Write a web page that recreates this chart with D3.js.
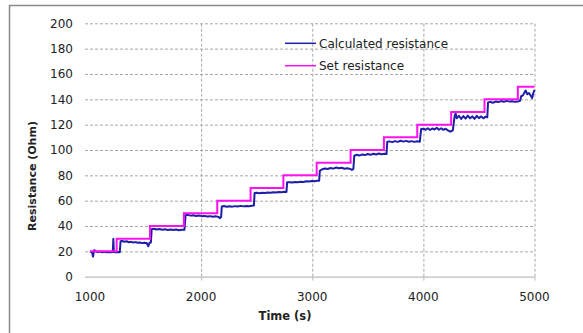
<!DOCTYPE html>
<html>
<head>
<meta charset="utf-8">
<script src="https://cdn.jsdelivr.net/npm/d3@7"></script>
<style>
  html, body { margin: 0; padding: 0; background: #fff; }
  svg { display: block; }
  text { font-family: "DejaVu Sans", sans-serif; fill: #222; }
</style>
</head>
<body>
<svg id="chart" width="583" height="333"></svg>
<script>
// ---------- data ----------
const xTicks = [1000, 2000, 3000, 4000, 5000];
const yTicks = [0, 20, 40, 60, 80, 100, 120, 140, 160, 180, 200];
const seriesNames = ["Calculated resistance", "Set resistance"];

// Set resistance: step change times and values
const setTimes  = [1000, 1240, 1540, 1845, 2145, 2445, 2740, 3040, 3345, 3645, 3945, 4250, 4550, 4850, 5000];
const setValues = [20,   30,   40,   50,   60,   70,   80,   90,   100,  110,  120,  130,  140,  150,  150];

// Calculated resistance (time, value)
const calcTimes = [
  1000,1010,1020,1027,1033,1040,1050,1070,1090,1110,1130,1150,1170,1190,1205,1210,1215,1230,1250,1268,1275,
  1290,1310,1330,1350,1370,1390,1410,1430,1450,1470,1490,1510,1525,1535,1548,1555,
  1575,1600,1625,1650,1675,1700,1725,1750,1775,1800,1825,1850,1860,
  1880,1905,1930,1955,1980,2005,2030,2055,2080,2105,2130,2155,2170,2180,2186,
  2205,2230,2255,2280,2305,2330,2355,2380,2405,2430,2455,2475,2481,
  2500,2525,2550,2575,2600,2625,2650,2675,2700,2725,2750,2768,2774,
  2795,2820,2845,2870,2895,2920,2945,2970,2995,3020,3045,3062,3068,
  3090,3115,3140,3165,3190,3215,3240,3265,3290,3315,3340,3357,3370,3378,
  3400,3425,3450,3475,3500,3525,3550,3575,3600,3625,3650,3668,3675,
  3695,3720,3745,3770,3795,3820,3845,3870,3895,3920,3945,3968,3980,
  4000,4020,4040,4060,4080,4100,4120,4140,4160,4180,4200,4220,4243,4265,4280,
  4290,4300,4320,4340,4360,4380,4400,4420,4440,4460,4480,4500,4520,4540,4560,4575,4582,
  4600,4625,4650,4675,4700,4725,4750,4775,4800,4825,4850,4870,4880,
  4895,4910,4920,4935,4950,4965,4979,4990,5000
];
const calcValues = [
  20,19.5,19,15.8,19,21,20,19.5,19.8,19.3,19.6,19.2,19.5,19.3,19.4,30,19.5,19.2,19.4,19.3,28,
  28.2,27.6,28,27.2,27.5,27,27.3,26.8,27,26.5,26.8,26.6,24,26.8,27,37.5,
  37.8,37.2,37.6,37,37.4,36.9,37.3,36.8,37.2,36.6,37,37.1,48.5,
  48.8,48.2,48.5,47.9,48.3,47.8,48,47.5,47.8,47.4,47.7,47.2,46.2,47.3,55.5,
  55.8,55.2,55.6,55.3,55.7,55.4,55.9,55.5,55.8,55.6,56,56.2,66,
  66.2,65.8,66.3,66,66.5,66.2,66.7,66.4,66.8,66.6,67,66.9,74.5,
  74.6,74.3,74.8,74.6,75,74.8,75.3,75.1,75.6,75.4,75.8,75.7,83.5,
  84.8,85.4,85,85.8,85.3,86.2,85.6,86,85.2,85.6,85.1,84.3,85,95.5,
  96.2,95.6,96.5,96,96.8,96.2,97,96.4,97.2,96.6,97,96.8,106.5,
  106.8,106.2,107,106.4,107.3,106.6,107.2,106.5,107,106.4,106.9,106.6,116.5,
  116.8,116,117.2,115.8,117,116.2,117.5,116,117.2,115.9,116.8,115.5,114.5,115.5,126,
  129,125,127,124.5,126.8,124.8,127.2,125,126.5,124.6,126.9,125.2,126.5,125,126.3,125.8,137.6,
  138,137.3,138.2,137.8,138.6,138.1,138.8,138.2,138.5,138,138.3,138.8,142.5,
  143,145.5,147,144,145,143,141,145,147.5
];

// ---------- layout ----------
const svg = d3.select("#chart");
const W = 583, H = 333;
const plot = { left: 85, right: 534.5, top: 23.3, bottom: 276.7 };

const x = d3.scaleLinear().domain([955, 5000]).range([plot.left, plot.right]);
const y = d3.scaleLinear().domain([0, 200]).range([plot.bottom, plot.top]);

// outer chart border
svg.append("rect")
  .attr("x", 9.5).attr("y", 5.5).attr("width", W + 10).attr("height", H + 10)
  .attr("fill", "none").attr("stroke", "#8a8a8a").attr("stroke-width", 1.5);

const gridColor = "#a8a8a8";

// horizontal gridlines
const yGrid = d3.axisLeft(y).tickValues(yTicks.filter(d => d > 0))
  .tickSize(-(plot.right - plot.left)).tickFormat("");
svg.append("g").attr("transform", `translate(${plot.left},0)`).call(yGrid)
  .call(g => g.select(".domain").remove())
  .call(g => g.selectAll("line").attr("stroke", gridColor).attr("stroke-dasharray", "3,2"));

// vertical gridlines
const xGrid = d3.axisBottom(x).tickValues(xTicks.filter(d => d > 1000))
  .tickSize(-(plot.bottom - plot.top)).tickFormat("");
svg.append("g").attr("transform", `translate(0,${plot.bottom})`).call(xGrid)
  .call(g => g.select(".domain").remove())
  .call(g => g.selectAll("line").attr("stroke", gridColor).attr("stroke-dasharray", "3,2"));

// x axis line + ticks
const xAxis = d3.axisBottom(x).tickValues(xTicks.filter(d => d > 1000)).tickSize(4).tickFormat("");
svg.append("g").attr("transform", `translate(0,${plot.bottom})`).call(xAxis)
  .call(g => g.select(".domain").attr("d", `M${plot.left},0.5H${plot.right}`).attr("stroke", "#bdbdbd").attr("stroke-width", 1.2))
  .call(g => g.selectAll("line").attr("stroke", "#bdbdbd"));

// x tick labels
svg.append("g").selectAll("text").data(xTicks).join("text")
  .attr("x", d => x(d)).attr("y", 301)
  .attr("text-anchor", "middle").attr("font-size", 12)
  .text(d => d);

// y tick labels
svg.append("g").selectAll("text").data(yTicks).join("text")
  .attr("x", 73).attr("y", d => y(d) + 4.3)
  .attr("text-anchor", "end").attr("font-size", 12)
  .text(d => d);

// axis titles
svg.append("text").attr("x", 285).attr("y", 320)
  .attr("text-anchor", "middle").attr("font-size", 11.5).attr("font-weight", "bold")
  .text("Time (s)");
svg.append("text")
  .attr("transform", "translate(36,176) rotate(-90)")
  .attr("text-anchor", "middle").attr("font-size", 11).attr("font-weight", "bold")
  .text("Resistance (Ohm)");

// data lines
const calcData = calcTimes.map((t, i) => [t, calcValues[i]]);
const setData = setTimes.map((t, i) => [t, setValues[i]]);

const lineLin = d3.line().x(d => x(d[0])).y(d => y(d[1]));
const lineStep = d3.line().x(d => x(d[0])).y(d => y(d[1])).curve(d3.curveStepAfter);

const blue = "#1e1ea8", pink = "#ff10f0";

svg.append("path").datum(calcData)
  .attr("d", lineLin).attr("fill", "none")
  .attr("stroke", blue).attr("stroke-width", 2).attr("stroke-linejoin", "round");

svg.append("path").datum(setData)
  .attr("d", lineStep).attr("fill", "none")
  .attr("stroke", pink).attr("stroke-width", 2);

// legend
const legend = svg.append("g");
const legendItems = [
  { name: seriesNames[0], color: blue, y: 43.3 },
  { name: seriesNames[1], color: pink, y: 65.7 }
];
legend.selectAll("line").data(legendItems).join("line")
  .attr("x1", 285).attr("x2", 316).attr("y1", d => d.y).attr("y2", d => d.y)
  .attr("stroke", d => d.color).attr("stroke-width", 1.5);
legend.selectAll("text").data(legendItems).join("text")
  .attr("x", 319).attr("y", d => d.y + 4.5).attr("font-size", 12)
  .text(d => d.name);
</script>
</body>
</html>
